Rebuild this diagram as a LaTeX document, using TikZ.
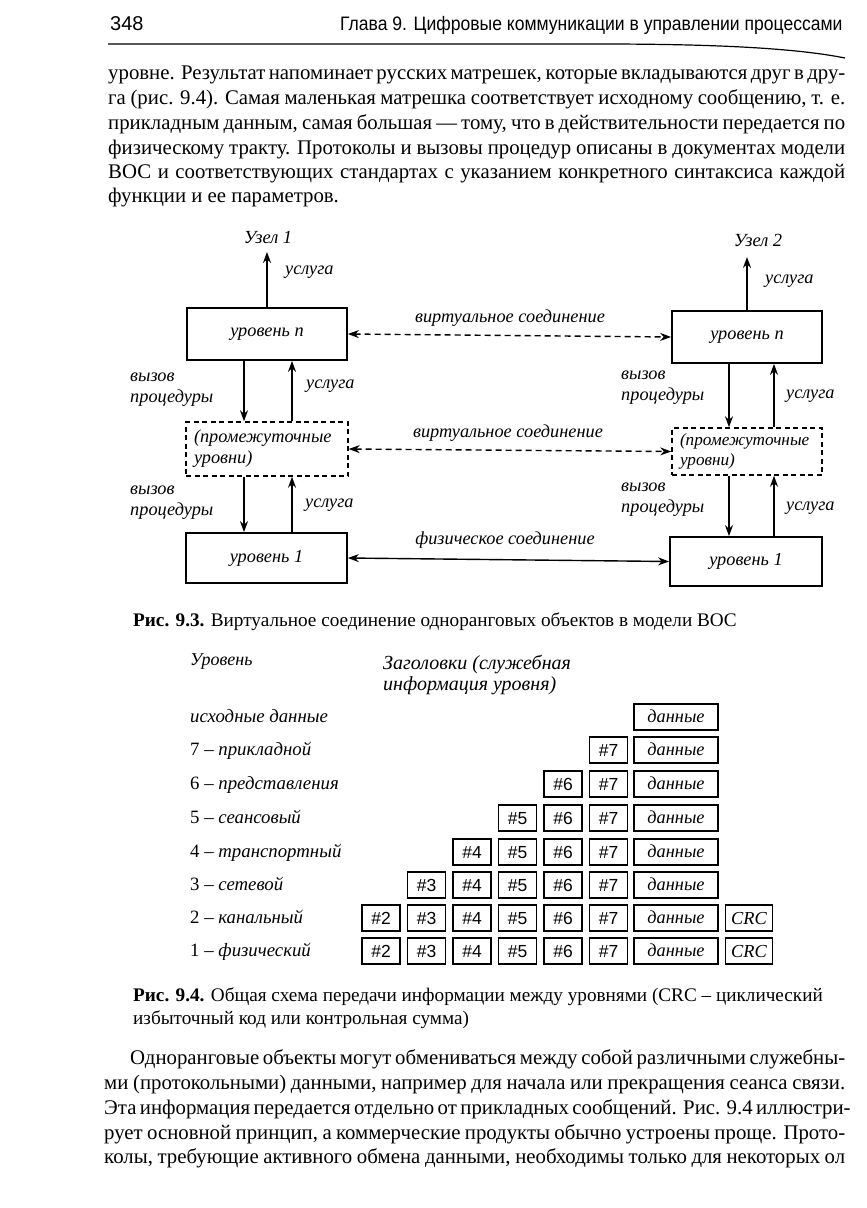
\documentclass[tikz,border=0pt]{standalone}
\usepackage{fontspec}
\setmainfont{Liberation Serif}
\newfontfamily\hdrfont{Liberation Sans}
\newfontfamily\hdrnarrow[FakeStretch=0.9]{Liberation Sans}
\usetikzlibrary{arrows.meta,calc}
\newcommand\bodysize{\fontsize{20.8}{25}\selectfont}
\newcommand\capsize{\fontsize{19.2}{23}\selectfont}
\newcommand\labsize{\fontsize{18.3}{21}\selectfont\itshape}
\newcommand\rowsize{\fontsize{18.8}{22}\selectfont}
\tikzset{
 txt/.style={anchor=base west, inner sep=0, font=\bodysize},
 captxt/.style={anchor=base west, inner sep=0, font=\capsize},
 lvl/.style={draw, line width=1.8pt, inner sep=0, font=\labsize},
 midbox/.style={draw, line width=1.5pt, dash pattern=on 5pt off 3.5pt, align=left, text width=146pt, inner xsep=8pt, inner ysep=0pt, font=\labsize},
 arr/.style={-{Stealth[length=11pt,width=8pt]}, line width=1.4pt},
 darr/.style={{Stealth[length=11pt,width=8pt]}-{Stealth[length=11pt,width=8pt]}, line width=1.4pt},
 dashline/.style={dash pattern=on 6pt off 4pt},
 lab/.style={inner sep=0, font=\labsize, align=left},
 cellbox/.style={draw, minimum height=26pt, inner xsep=0pt, inner ysep=0pt},
 hbox/.style={cellbox, line width=1.3pt, minimum width=38pt, text height=12.6pt, text depth=0pt, font=\hdrfont\fontsize{17.5}{20}\selectfont},
 dbox/.style={cellbox, line width=2pt, minimum width=84pt, text height=12pt, text depth=1.5pt, font=\labsize},
 cbox/.style={cellbox, line width=1.3pt, minimum width=47pt, text height=12.6pt, text depth=0pt, font=\labsize},
 rowlab/.style={anchor=base west, inner sep=0, font=\rowsize},
}
\begin{document}
\begin{tikzpicture}[x=1pt,y=-1pt]
\useasboundingbox[fill=white] (0,0) rectangle (867,1208);
% header
\node[anchor=base west, inner sep=0, font=\hdrfont\fontsize{20}{24}\selectfont] (pnum) at (110,30) {348};
\node[anchor=base west, inner sep=0, font=\hdrnarrow\fontsize{19.5}{24}\selectfont] (htitle) at (340,30) {Глава 9. Цифровые коммуникации в управлении процессами};
\draw[line width=1.2pt] (108,44) -- (600,44) .. controls (700,44) and (790,47) .. (845,58);
% paragraph 1
\node[txt] (p1a) at (108,79) {\makebox[737pt][s]{уровне. Результат напоминает русских матрешек, которые вкладываются друг в дру-}};
\node[txt] (p1b) at (108,104) {\makebox[737pt][s]{га (рис. 9.4). Самая маленькая матрешка соответствует исходному сообщению, т. е.}};
\node[txt] (p1c) at (108,129) {\makebox[737pt][s]{прикладным данным, самая большая — тому, что в действительности передается по}};
\node[txt] (p1d) at (108,154) {\makebox[737pt][s]{физическому тракту. Протоколы и вызовы процедур описаны в документах модели}};
\node[txt] (p1e) at (108,178) {\makebox[737pt][s]{ВОС и соответствующих стандартах с указанием конкретного синтаксиса каждой}};
\node[txt] (p1f) at (108,202) {функции и ее параметров.};
% Fig 9.3
\node[lvl, minimum width=160pt, minimum height=52pt] (Ln) at (267,334) {уровень \textit{n}};
\node[lvl, minimum width=150pt, minimum height=52pt] (Rn) at (747,337) {уровень \textit{n}};
\node[midbox, minimum height=54pt] (Lm) at (267,449) {(промежуточные\\уровни)};
\node[midbox, text width=134pt, minimum height=47pt, font=\fontsize{17.2}{20}\selectfont\itshape] (Rm) at (747,451.5) {(промежуточные\\уровни)};
\node[lvl, minimum width=161pt, minimum height=50pt] (L1) at (266.5,558) {уровень 1};
\node[lvl, minimum width=152pt, minimum height=49pt] (R1) at (746,561.5) {уровень 1};
\node[inner sep=0, font=\labsize\fontsize{18.5}{21}\selectfont] (uz1) at (268,237) {Узел 1};
\node[inner sep=0, font=\labsize\fontsize{18.5}{21}\selectfont] (uz2) at (758,240) {Узел 2};
\coordinate (t1) at (267,252);
\coordinate (t2) at (747,257);
\draw[arr] (Ln.north) -- (t1);
\draw[arr] (Rn.north) -- (t2);
\node[lab, anchor=west] (us0) at (285,272) {услуга};
\node[lab, anchor=west] (us0r) at (765,281) {услуга};
\coordinate (xLd) at (244,0);
\coordinate (xLu) at (292,0);
\coordinate (xRd) at (729,0);
\coordinate (xRu) at (774,0);
\draw[arr] (Ln.south -| xLd) -- (Lm.north -| xLd);
\draw[arr] (Lm.north -| xLu) -- (Ln.south -| xLu);
\draw[arr] (Lm.south -| xLd) -- (L1.north -| xLd);
\draw[arr] (L1.north -| xLu) -- (Lm.south -| xLu);
\draw[arr] (Rn.south -| xRd) -- (Rm.north -| xRd);
\draw[arr] (Rm.north -| xRu) -- (Rn.south -| xRu);
\draw[arr] (Rm.south -| xRd) -- (R1.north -| xRd);
\draw[arr] (R1.north -| xRu) -- (Rm.south -| xRu);
\node[lab, anchor=west] (vp1) at (130,390) {вызов\\процедуры};
\node[lab, anchor=west] (vp2) at (130,503) {вызов\\процедуры};
\node[lab, anchor=west] (vp3) at (621,388) {вызов\\процедуры};
\node[lab, anchor=west] (vp4) at (621,500) {вызов\\процедуры};
\node[lab, anchor=west] (us1) at (306,386) {услуга};
\node[lab, anchor=west] (us2) at (305,505) {услуга};
\node[lab, anchor=west] (us3) at (786,396) {услуга};
\node[lab, anchor=west] (us4) at (786,508) {услуга};
\draw[darr, dashline] (Ln.east) -- (Rn.west);
\draw[darr, dashline] (Lm.east) -- (Rm.west);
\draw[darr] (L1.east) -- (R1.west);
\node[lab] (vs1) at (510,318) {виртуальное соединение};
\node[lab] (vs2) at (508,433) {виртуальное соединение};
\node[lab] (fs) at (505,540) {физическое соединение};
\node[captxt] (cap3) at (133,626) {\textbf{Рис. 9.3.} Виртуальное соединение одноранговых объектов в модели ВОС};
% Fig 9.4
\node[lab, anchor=west, font=\labsize\fontsize{18}{20}\selectfont] (hUr) at (190,662) {Уровень};
\node[lab, anchor=north west, font=\labsize\fontsize{20}{21}\selectfont] (hZg) at (383,655) {Заголовки (служебная\\информация уровня)};
\foreach \y/\t in {717/{\textit{исходные данные}},750/{7 – \textit{прикладной}},784/{6 – \textit{представления}},818/{5 – \textit{сеансовый}},852/{4 – \textit{транспортный}},885/{3 – \textit{сетевой}},918/{2 – \textit{канальный}},951/{1 – \textit{физический}}}
  \node[rowlab] (rl\y) at (190,\y+5) {\t};
\node[dbox] (d0) at (676,717) {данные};
\foreach \r/\y/\first/\crc in {1/750/7/0,2/784/6/0,3/818/5/0,4/852/4/0,5/885/3/0,6/918/2/1,7/951/2/1}{
  \foreach \k in {\first,...,7}
    \node[hbox] (h\r-\k) at ({381+(\k-2)*45.5},\y) {\#\k};
  \node[dbox] (d\r) at (676,\y) {данные};
  \ifnum\crc=1 \node[cbox] (c\r) at (749,\y) {CRC};\fi
}
\node[captxt] (cap4a) at (133,1001) {\textbf{Рис. 9.4.} Общая схема передачи информации между уровнями (CRC – циклический};
\node[captxt] (cap4b) at (133,1024) {избыточный код или контрольная сумма)};
% paragraph 2
\node[txt] (p2a) at (130,1064) {\makebox[715pt][s]{Одноранговые объекты могут обмениваться между собой различными служебны-}};
\node[txt] (p2b) at (104,1089) {\makebox[741pt][s]{ми (протокольными) данными, например для начала или прекращения сеанса связи.}};
\node[txt] (p2c) at (104,1114) {\makebox[741pt][s]{Эта информация передается отдельно от прикладных сообщений. Рис. 9.4 иллюстри-}};
\node[txt] (p2d) at (104,1139) {\makebox[741pt][s]{рует основной принцип, а коммерческие продукты обычно устроены проще. Прото-}};
\node[txt] (p2e) at (104,1163) {\makebox[741pt][s]{колы, требующие активного обмена данными, необходимы только для некоторых ол}};
\end{tikzpicture}
\end{document}
